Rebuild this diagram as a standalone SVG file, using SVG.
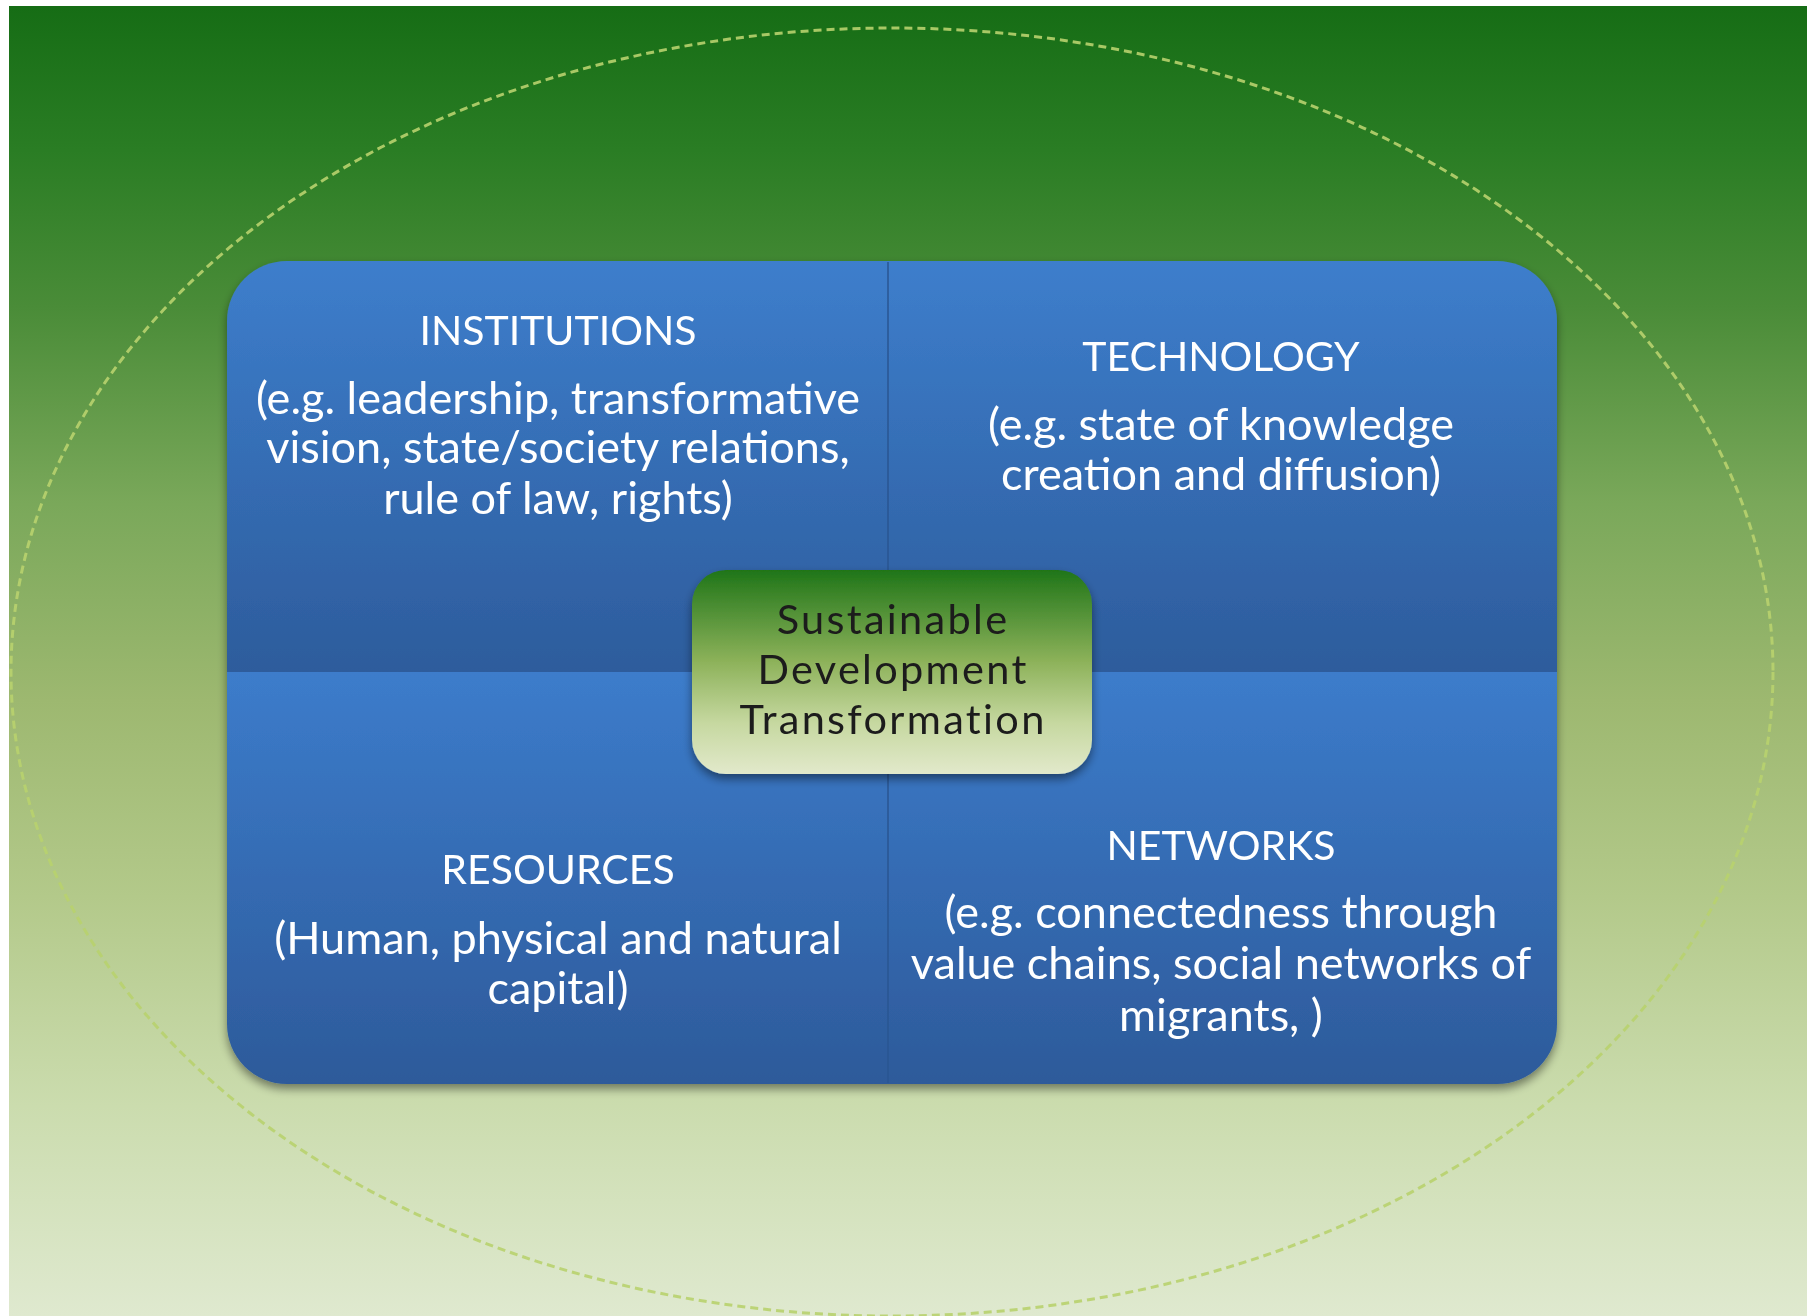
<svg xmlns="http://www.w3.org/2000/svg" width="1812" height="1316" viewBox="0 0 1812 1316">
  <defs>
    <linearGradient id="bg" x1="0" y1="6" x2="0" y2="1316" gradientUnits="userSpaceOnUse">
      <stop offset="0" stop-color="#166d15"/>
      <stop offset="0.11" stop-color="#2a7d24"/>
      <stop offset="0.23" stop-color="#4a8c38"/>
      <stop offset="0.38" stop-color="#7aa85a"/>
      <stop offset="0.53" stop-color="#9db870"/>
      <stop offset="0.68" stop-color="#b3c98a"/>
      <stop offset="0.84" stop-color="#cbdcae"/>
      <stop offset="1" stop-color="#dfe9cf"/>
    </linearGradient>
    <linearGradient id="qTop" x1="0" y1="261" x2="0" y2="672" gradientUnits="userSpaceOnUse">
      <stop offset="0" stop-color="#3d7ecc"/>
      <stop offset="1" stop-color="#2d5c9c"/>
    </linearGradient>
    <linearGradient id="qBot" x1="0" y1="672" x2="0" y2="1084" gradientUnits="userSpaceOnUse">
      <stop offset="0" stop-color="#3c7ccb"/>
      <stop offset="1" stop-color="#2d5a9a"/>
    </linearGradient>
    <linearGradient id="center" x1="0" y1="0" x2="0" y2="1">
      <stop offset="0" stop-color="#1f7518"/>
      <stop offset="0.45" stop-color="#8db25a"/>
      <stop offset="0.75" stop-color="#c6d8a0"/>
      <stop offset="1" stop-color="#e2e9cb"/>
    </linearGradient>
    <filter id="shadow" x="-10%" y="-10%" width="120%" height="125%">
      <feGaussianBlur in="SourceAlpha" stdDeviation="5"/>
      <feOffset dx="0" dy="5" result="b"/>
      <feComponentTransfer><feFuncA type="linear" slope="0.45"/></feComponentTransfer>
      <feMerge><feMergeNode/><feMergeNode in="SourceGraphic"/></feMerge>
    </filter>
  </defs>
  <style>
    .label { font-family: Lato, "Liberation Sans", sans-serif; font-size: 45px; fill: #ffffff; text-anchor: middle; }
    .title { font-family: Lato, "Liberation Sans", sans-serif; font-size: 41px; fill: #ffffff; text-anchor: middle; }
    .ctext { font-family: Lato, "Liberation Sans", sans-serif; font-size: 41.5px; fill: #1c1c1c; text-anchor: middle; letter-spacing: 2.3px; }
    .divider { stroke: #2a5692; stroke-width: 1.5; fill: none; }
  </style>

  <rect x="9" y="6" width="1798" height="1310" fill="url(#bg)"/>
  <ellipse id="ring" cx="892" cy="672" rx="881" ry="644" fill="none" stroke="#b8d26e" stroke-width="3" stroke-dasharray="8 5" opacity="0.9"/>

  <g id="matrix" filter="url(#shadow)">
    <g id="institutions">
      <path d="M227,672 V321 A60,60 0 0 1 287,261 H888 V672 Z" fill="url(#qTop)"/>
      <text class="title" x="558" y="345">INSTITUTIONS</text>
      <text class="label" x="558" y="414">(e.g. leadership, transformative</text>
      <text class="label" x="558" y="463">vision, state/society relations,</text>
      <text class="label" x="558" y="514">rule of law, rights)</text>
    </g>
    <g id="technology">
      <path d="M888,672 V261 H1497 A60,60 0 0 1 1557,321 V672 Z" fill="url(#qTop)"/>
      <text class="title" x="1221" y="371">TECHNOLOGY</text>
      <text class="label" x="1221" y="440">(e.g. state of knowledge</text>
      <text class="label" x="1221" y="490">creation and diffusion)</text>
    </g>
    <g id="resources">
      <path d="M227,672 H888 V1084 H287 A60,60 0 0 1 227,1024 Z" fill="url(#qBot)"/>
      <text class="title" x="558" y="884">RESOURCES</text>
      <text class="label" x="558" y="954">(Human, physical and natural</text>
      <text class="label" x="558" y="1004">capital)</text>
    </g>
    <g id="networks">
      <path d="M888,672 H1557 V1024 A60,60 0 0 1 1497,1084 H888 Z" fill="url(#qBot)"/>
      <text class="title" x="1221" y="860">NETWORKS</text>
      <text class="label" x="1221" y="928">(e.g. connectedness through</text>
      <text class="label" x="1221" y="979">value chains, social networks of</text>
      <text class="label" x="1221" y="1031">migrants, )</text>
    </g>
  </g>

  <g id="connectors">
    <line class="divider" x1="888" y1="262" x2="888" y2="1083"/>
  </g>

  <g id="sustainable-development" filter="url(#shadow)">
    <rect x="692" y="570" width="400" height="204" rx="34" fill="url(#center)"/>
    <text class="ctext" x="893" y="634">Sustainable</text>
    <text class="ctext" x="893" y="684">Development</text>
    <text class="ctext" x="893" y="734">Transformation</text>
  </g>
</svg>
